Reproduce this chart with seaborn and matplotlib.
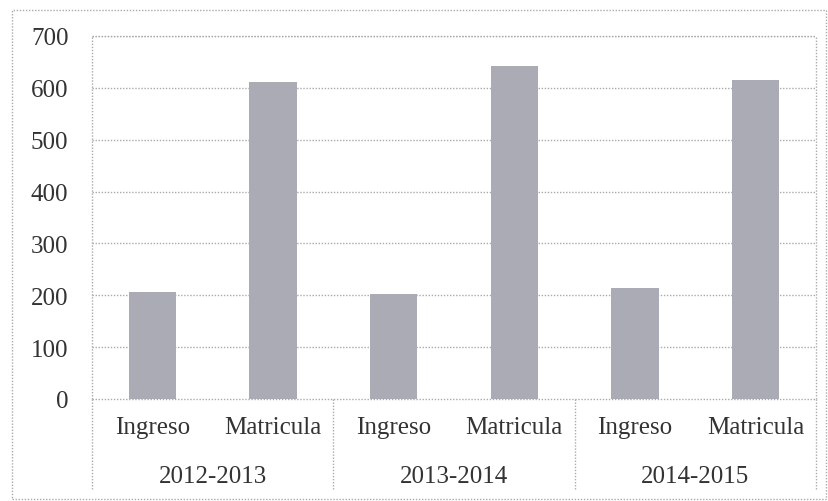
import matplotlib
matplotlib.use("Agg")
import matplotlib.pyplot as plt
import seaborn as sns
import pandas as pd
from matplotlib.patches import Rectangle
from matplotlib.lines import Line2D

years = ["2012-2013", "2013-2014", "2014-2015"]
subcats = ["Ingreso", "Matricula"]
values = [207, 611, 202, 642, 214, 615]
yticks = [0, 100, 200, 300, 400, 500, 600, 700]

keys = [f"{y}|{s}" for y in years for s in subcats]
df = pd.DataFrame({"key": keys, "value": values})

sns.set_theme(style="white")
plt.rcParams["font.family"] = ["Liberation Serif", "DejaVu Serif"]

fig = plt.figure(figsize=(8.29, 5.02), dpi=100)
ax = fig.add_axes([92/829, 1-400/502, (816-92)/829, (400-37)/502])

sns.barplot(data=df, x="key", y="value", order=keys, color="#ababb5",
            width=0.39, saturation=1, ax=ax, errorbar=None, linewidth=0)

fs = 18
tcol = "#333333"
ax.set_ylim(0, 700)
ax.set_yticks(yticks)
ax.set_yticklabels([str(t) for t in yticks], fontsize=fs, color=tcol)
ax.tick_params(axis="y", length=0, pad=17)
ax.tick_params(axis="x", length=0, pad=12)
ax.set_xticks(range(len(keys)))
ax.set_xticklabels([k.split("|")[1] for k in keys], fontsize=fs, color=tcol)
ax.set_xlabel("")
ax.set_ylabel("")

dot = (0, (1, 1.2))
gcol = "#aaaaaa"
lw = 1.0
for t in yticks[1:]:
    ax.axhline(t, color=gcol, linewidth=lw, linestyle=dot, zorder=0)
for s in ax.spines.values():
    s.set_linestyle(dot)
    s.set_color(gcol)
    s.set_linewidth(lw)
    s.set_capstyle("butt")

ax.set_xlim(-0.5, len(keys) - 0.5)
trans = ax.get_xaxis_transform()
for i in range(len(years) + 1):
    x = -0.5 + 2 * i
    ax.add_line(Line2D([x, x], [0, -0.25], transform=trans, clip_on=False,
                       color=gcol, linewidth=lw, linestyle=dot))
for i, y in enumerate(years):
    ax.text(2 * i + 0.5, -(477 - 400) / 363, y, transform=trans, ha="center",
            va="center", fontsize=fs, color=tcol)

fig.patches.append(Rectangle((12/829, 1-500/502), (826-12)/829, (500-11)/502,
                             transform=fig.transFigure, fill=False,
                             edgecolor=gcol, linewidth=lw, linestyle=dot))

fig.savefig("out.png", dpi=100)
